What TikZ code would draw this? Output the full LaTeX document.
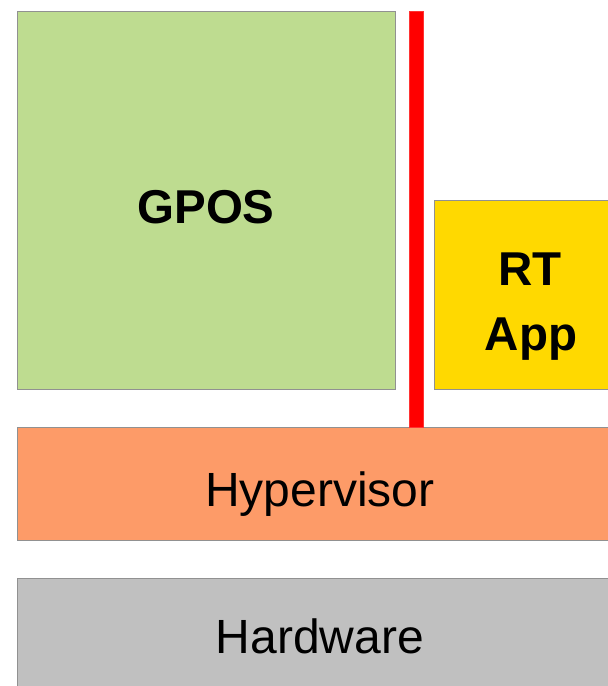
\documentclass[tikz,border=0pt]{standalone}
\usepackage{fontspec}
\setmainfont{Liberation Sans}
\definecolor{gposgreen}{RGB}{190,220,144}
\definecolor{rtyellow}{RGB}{255,217,0}
\definecolor{hvorange}{RGB}{253,155,104}
\definecolor{hwgray}{RGB}{192,192,192}
\definecolor{edgegray}{RGB}{145,145,145}
\tikzset{
  layer/.style={draw=edgegray, line width=1.2pt, anchor=north west, inner sep=0pt},
  labeltext/.style={anchor=base, inner sep=0pt, font=\fontsize{48}{57}\selectfont},
  boldtext/.style={labeltext, font=\fontsize{47.5}{57}\selectfont\bfseries}
}
\begin{document}
\begin{tikzpicture}[x=1pt, y=-1pt]
  \useasboundingbox (0,0) rectangle (608,686);
  \clip (0,0) rectangle (608,686);
  % layers
  \node[layer, fill=gposgreen, minimum width=378pt, minimum height=378pt] (gpos) at (17,11) {};
  \node[layer, fill=rtyellow, minimum width=200pt, minimum height=189pt] (rtapp) at (434,200) {};
  \node[layer, fill=hvorange, minimum width=610pt, minimum height=113pt] (hv) at (17,427) {};
  \node[layer, fill=hwgray, minimum width=610pt, minimum height=120pt] (hw) at (17,578) {};
  % isolation bar
  \node[draw=red!80, fill=red, line width=0.8pt, anchor=north west, inner sep=0pt,
        minimum width=14pt, minimum height=416pt] (bar) at (409,11) {};
  % labels
  \node[boldtext] (gposlabel) at (206,223) {GPOS};
  \node[boldtext] (rtlabel) at (530,285) {RT};
  \node[boldtext] (applabel) at (531,350) {App};
  \node[labeltext] (hvlabel) at (320,506) {Hypervisor};
  \node[labeltext] (hwlabel) at (320,653) {Hardware};
\end{tikzpicture}
\end{document}
